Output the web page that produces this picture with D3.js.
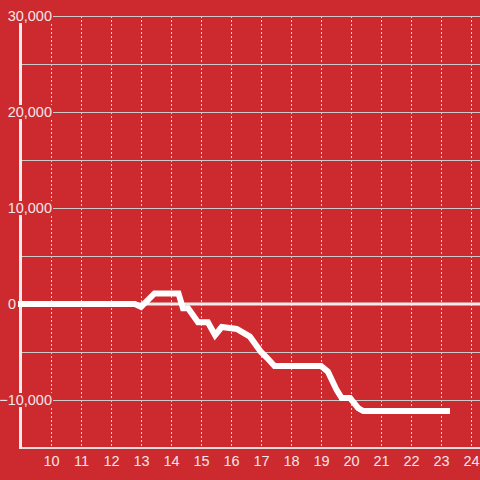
<!DOCTYPE html>
<html><head><meta charset="utf-8">
<script src="https://cdn.jsdelivr.net/npm/d3@7"></script>
<style>html,body{margin:0;padding:0;background:#cc2a2f;}svg{display:block;}</style>
</head><body>
<svg id="c" width="480" height="480"></svg>
<script>
const xValues = [9, 12.8, 13.0, 13.45, 14.25, 14.4, 14.57, 14.9, 15.23, 15.47, 15.69, 16.19, 16.63, 17.0, 17.2, 17.45, 19.0, 19.23, 19.52, 19.69, 19.97, 20.24, 20.41, 23.2];
const yValues = [0, 0, -300, 1100, 1100, -450, -450, -1900, -1900, -3250, -2400, -2600, -3400, -5000, -5600, -6450, -6450, -7050, -8950, -9800, -9800, -10850, -11150, -11150];
const xTicks = [10, 11, 12, 13, 14, 15, 16, 17, 18, 19, 20, 21, 22, 23, 24];
const yGrid = [-15000, -10000, -5000, 0, 5000, 10000, 15000, 20000, 25000, 30000];
const yLabels = [-10000, 0, 10000, 20000, 30000];

const bg = "#cc2a2f";
const svg = d3.select("#c");
svg.append("rect").attr("width", 480).attr("height", 480).attr("fill", bg);

const x = d3.scaleLinear().domain([9, 24]).range([21, 471]);
const y = d3.scaleLinear().domain([-15000, 30000]).range([448, 16]);

// vertical dashed grid
svg.append("g").selectAll("line").data(xTicks).join("line")
  .attr("x1", d => Math.round(x(d)) + 0.5).attr("x2", d => Math.round(x(d)) + 0.5)
  .attr("y1", y(30000)).attr("y2", y(-15000))
  .attr("stroke", "#e6d0d0").attr("stroke-width", 1).attr("stroke-dasharray", "2,2");

// horizontal grid
svg.append("g").selectAll("line").data(yGrid.filter(d => d !== 0 && d !== -15000)).join("line")
  .attr("x1", x(9)).attr("x2", 480)
  .attr("y1", d => Math.round(y(d)) + 0.5).attr("y2", d => Math.round(y(d)) + 0.5)
  .attr("stroke", "#cfcaca").attr("stroke-width", 1);

// bottom axis line
svg.append("line").attr("x1", x(9) - 1).attr("x2", 480)
  .attr("y1", y(-15000)).attr("y2", y(-15000))
  .attr("stroke", "#ddd").attr("stroke-width", 2);

// zero line
svg.append("line").attr("x1", x(9)).attr("x2", 480)
  .attr("y1", y(0)).attr("y2", y(0))
  .attr("stroke", "#f0ecec").attr("stroke-width", 3);

// y axis line
svg.append("line").attr("x1", 20.5).attr("x2", 20.5)
  .attr("y1", y(30000)).attr("y2", y(-15000) + 1)
  .attr("stroke", "#f0ecec").attr("stroke-width", 3);

// data line
const line = d3.line().x((d, i) => x(xValues[i])).y(d => y(d));
svg.append("path").datum(yValues)
  .attr("d", line)
  .attr("fill", "none").attr("stroke", "#ffffff").attr("stroke-width", 6)
  .attr("stroke-linecap", "square").attr("stroke-linejoin", "miter");

// y labels with background boxes
const fmt = d3.format(",");
const yl = svg.append("g");
yLabels.forEach(v => {
  const g = yl.append("g");
  const t = g.append("text")
    .attr("x", v === 0 ? 16 : 52).attr("y", y(v)).attr("dy", "0.37em")
    .attr("text-anchor", "end")
    .attr("font-family", "Liberation Sans, Arial, sans-serif").attr("font-size", 14.5)
    .attr("fill", "#f3e6e6").text(fmt(v));
  const b = t.node().getBBox();
  g.insert("rect", "text").attr("x", b.x - 2).attr("y", y(v) - 7).attr("width", b.width + 3).attr("height", 14).attr("fill", bg);
});

// x labels
svg.append("g").selectAll("text").data(xTicks).join("text")
  .attr("x", d => x(d) + 0.5).attr("y", 466)
  .attr("text-anchor", "middle")
  .attr("font-family", "Liberation Sans, Arial, sans-serif").attr("font-size", 14.5)
  .attr("fill", "#f3e6e6").text(d => d);
</script>
</body></html>
